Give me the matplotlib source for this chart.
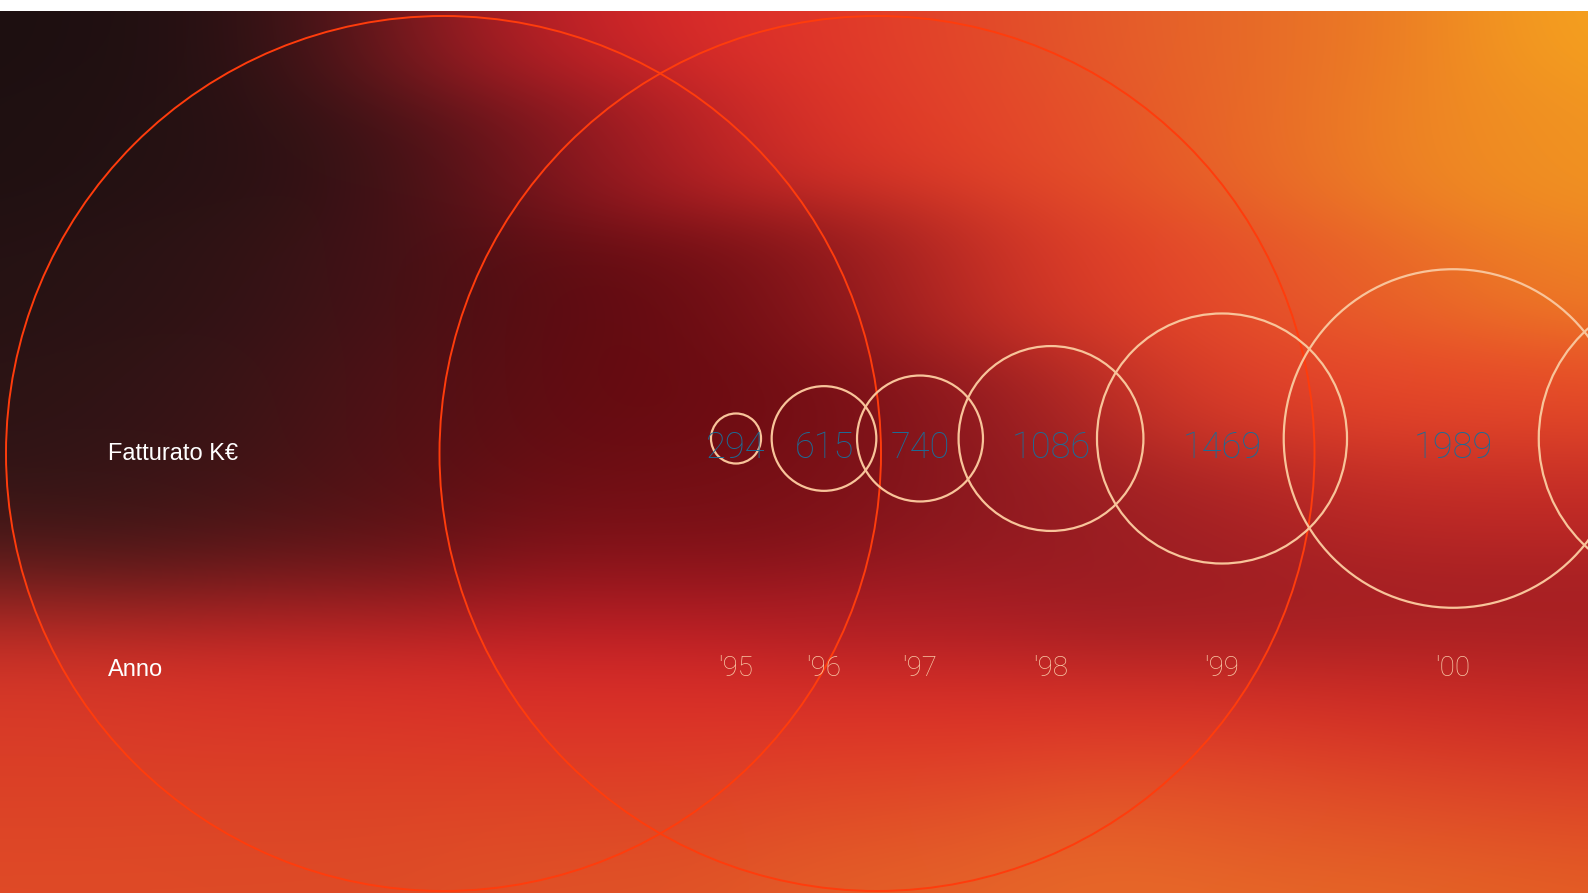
"""Fatturato per anno: cerchi proporzionali su sfondo sfumato."""
import numpy as np
from matplotlib import pyplot as plt
from matplotlib.colors import to_rgb
from matplotlib.patches import Circle

# data
years = ["'95", "'96", "'97", "'98", "'99", "'00", "'01"]
revenue = [294, 615, 740, 1086, 1469, 1989, 1730]

# layout (pixel coordinates, y from top)
W, H, TOP = 1588, 893, 11
slot_x = [736, 824, 920, 1051, 1222, 1453, 1686]
circle_y = 438.5
row_value_y = 448
row_year_y = 669
px_per_k = 1 / 11.75

# background colour anchors, row by row: y -> [(x, colour), ...]
bg_rows = {
    20: [(20, '#1C0F10'), (200, '#201012'), (330, '#2A1214'), (450, '#A81C24'),
         (560, '#D8242A'), (750, '#E0302A'), (950, '#E2452A'), (1150, '#E5602A'),
         (1350, '#EA7526'), (1570, '#F6A51E')],
    150: [(20, '#1E1011'), (200, '#261213'), (380, '#341215'), (540, '#681018'),
          (660, '#C8222A'), (850, '#E03628'), (1050, '#E54A2A'), (1250, '#E86A28'),
          (1450, '#EE8424'), (1570, '#F29A20')],
    280: [(20, '#241213'), (200, '#2E1315'), (400, '#461216'), (600, '#620A10'),
          (780, '#680C12'), (890, '#A01C24'), (1010, '#E23A28'), (1150, '#E6462A'),
          (1350, '#E8602A'), (1570, '#EE8224')],
    400: [(20, '#2A1314'), (200, '#361416'), (400, '#501216'), (600, '#660A10'),
          (800, '#700C12'), (1000, '#921A22'), (1200, '#E2402A'), (1400, '#E8462A'),
          (1570, '#E84E28')],
    500: [(20, '#2E1516'), (200, '#3C1516'), (400, '#5A1014'), (600, '#6E0C12'),
          (800, '#7A1016'), (1000, '#8E1A20'), (1200, '#A22024'), (1400, '#C02A26'),
          (1570, '#C02826')],
    545: [(20, '#3A1616'), (300, '#4A1416'), (600, '#7A1218')],
    610: [(20, '#CC2C28'), (300, '#CC2628'), (600, '#C82028'), (900, '#A81C24'),
          (1200, '#9A1C22'), (1400, '#A01E22'), (1570, '#A01E22')],
    710: [(20, '#D83A28'), (300, '#DA3428'), (600, '#DC3028'), (900, '#DE3028'),
          (1200, '#DC3028'), (1400, '#D42C26'), (1570, '#C82826')],
    800: [(20, '#DC4226'), (300, '#DC4426'), (600, '#DE4426'), (900, '#E04A28'),
          (1200, '#E4582A'), (1400, '#E04E28'), (1570, '#DE4428')],
    890: [(20, '#E04C26'), (300, '#DE4C26'), (600, '#E05426'), (900, '#E46028'),
          (1100, '#E86C28'), (1400, '#E66A26'), (1570, '#E45E24')],
}


def make_background(rows, sx=120.0, sy=55.0):
    """Blend anchor colours with normalised anisotropic gaussian weights."""
    yy, xx = np.mgrid[TOP:H, 0:W].astype(float)
    acc = np.zeros(xx.shape + (3,))
    wsum = np.zeros(xx.shape)
    for ay, pts in rows.items():
        for axx, col in pts:
            w = np.exp(-((xx - axx) / sx) ** 2 / 2 - ((yy - ay) / sy) ** 2 / 2) + 1e-30
            acc += w[..., None] * np.array(to_rgb(col))
            wsum += w
    return acc / wsum[..., None]


fig = plt.figure(figsize=(W / 100, H / 100), dpi=100)
fig.patch.set_facecolor('white')
ax = fig.add_axes([0, 0, 1, (H - TOP) / H])
ax.set_xlim(0, W)
ax.set_ylim(H, TOP)
ax.axis('off')

ax.imshow(make_background(bg_rows), extent=(0, W, H, TOP), aspect='auto',
          interpolation='bilinear', zorder=0)

# decorative large rings
for cx in (443.5, 877):
    ax.add_patch(Circle((cx, 453.5), 437.5, fill=False, edgecolor='#FF3C0C',
                        linewidth=1.4, zorder=1))

# value circles and labels
for x, val, yr in zip(slot_x, revenue, years):
    ax.add_patch(Circle((x, circle_y), val * px_per_k, fill=False,
                        edgecolor='#F8C49A', linewidth=1.6, zorder=2))
    if x > W:
        continue
    ax.text(x, row_value_y, str(val), color='#1C6C96', fontsize=26,
            family=['Roboto', 'DejaVu Sans'], fontweight='light',
            ha='center', va='center', zorder=3)
    ax.text(x, row_year_y, yr, color='#F8C6A4', fontsize=20,
            family=['Roboto', 'DejaVu Sans'], fontweight='light',
            ha='center', va='center', zorder=3)

ax.text(108, 454, 'Fatturato K€', color='white', fontsize=17,
        family=['Liberation Sans', 'DejaVu Sans'], ha='left', va='center')
ax.text(108, 670, 'Anno', color='white', fontsize=17,
        family=['Liberation Sans', 'DejaVu Sans'], ha='left', va='center')

fig.savefig('out.png', dpi=100, facecolor='white')
